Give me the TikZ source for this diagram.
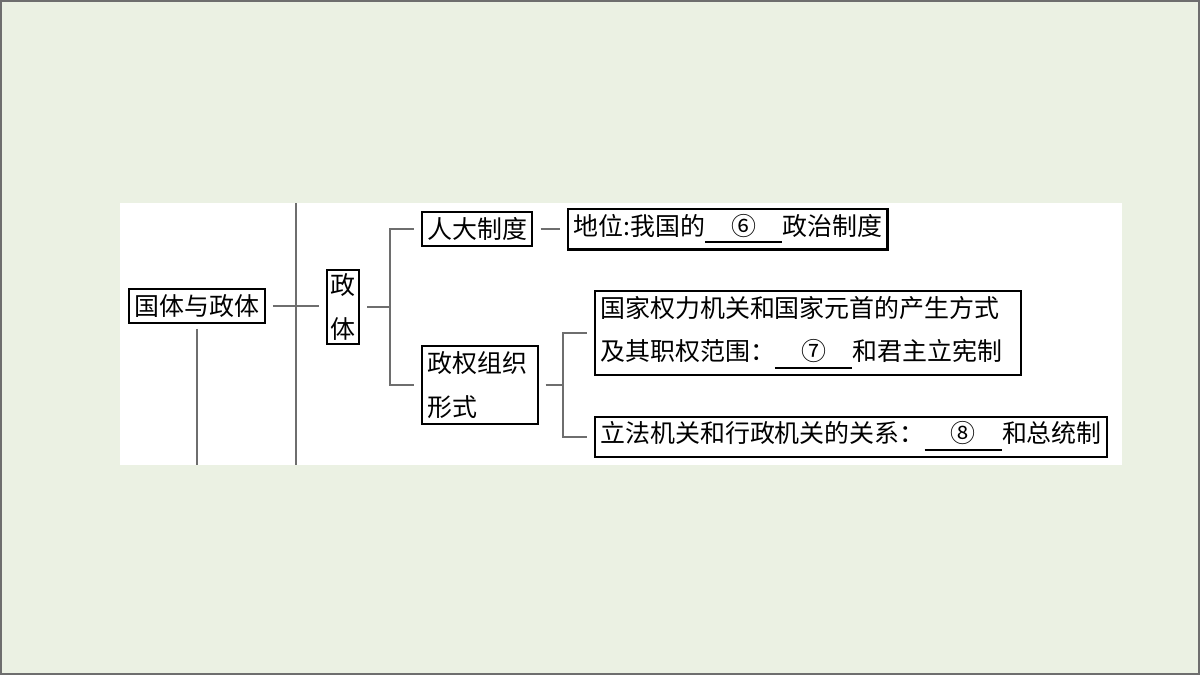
\documentclass[tikz,border=0pt]{standalone}
\usepackage{fontspec}
\newfontfamily\cjk{Noto Sans CJK SC}
\usetikzlibrary{positioning}
\definecolor{pagecolor}{RGB}{235, 241, 227}
\definecolor{linegray}{RGB}{110, 110, 110}
\newcommand{\blank}[1]{\underline{\makebox[3.1em]{#1}}}

\begin{document}
\begin{tikzpicture}[x=1cm,y=1cm,
        box/.style={draw=black, semithick, inner sep=1.5pt, font=\cjk\fontsize{7.1}{12.4}\selectfont},
        link/.style={draw=linegray, line width=0.4pt}]
        % page and panel
        \fill[pagecolor] (0,0) rectangle (12,6.75);
        \draw[linegray, line width=0.6pt] (0.01,0.01) rectangle (11.99,6.74);
        \fill[white] (1.20,2.10) rectangle (11.22,4.72);
        % nodes
        \node[box] (guoti) at (1.97,3.69) {国体与政体};
        \node[box, align=center, inner sep=1pt] (zhengti) at (3.43,3.68) {政\\体};
        \node[box, anchor=west] (renda) at (4.21,4.46) {人大制度};
        \node[box, anchor=west] (diwei) at (5.67,4.46) {地位:我国的\blank{⑥}政治制度};
        \node[box, text width=1.05cm, align=left, anchor=west] (zuzhi) at (4.21,2.90) {政权组织\\形式};
        \node[box, text width=4.15cm, align=left, anchor=west] (chansheng) at (5.94,3.42) {国家权力机关和国家元首的产生方式\\及其职权范围：\blank{⑦}和君主立宪制};
        \node[box, anchor=west] (guanxi) at (5.94,2.38) {立法机关和行政机关的关系：\blank{⑧}和总统制};
        % connectors
        \coordinate (gdown) at (1.97,2.10);
        \draw[link] (guoti.south) ++(0,-0.05) -- (gdown);
        \draw[link] (2.96,4.72) -- (2.96,2.10);
        \draw[link] ([xshift=2pt]guoti.east) -- ([xshift=-2pt]zhengti.west |- guoti.east);
        \draw[link] ([xshift=2pt]zhengti.east) -- (3.90,3.68);
        \draw[link] ([xshift=-2pt]renda.west) -| (3.90,3.68) |- ([xshift=-2pt]zuzhi.west);
        \draw[link] ([xshift=2pt]renda.east) -- ([xshift=-2pt]diwei.west);
        \draw[link] ([xshift=2pt]zuzhi.east) -- (5.63,2.90);
        \draw[link] ([xshift=-2pt]chansheng.west) -| (5.63,2.90) |- ([xshift=-2pt]guanxi.west);
    \end{tikzpicture}
\end{document}
